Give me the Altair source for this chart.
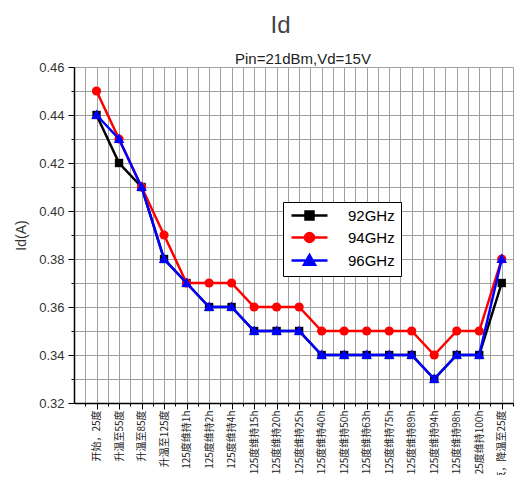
import json
import altair as alt
import pandas as pd

categories = ["开始，25度", "升温至55度", "升温至85度", "升温至125度",
              "125度维持1h", "125度维持2h", "125度维持4h", "125度维持15h",
              "125度维持20h", "125度维持25h", "125度维持40h", "125度维持50h",
              "125度维持63h", "125度维持75h", "125度维持89h", "125度维持94h",
              "125度维持98h", "125度维持100h", "结束，降温至25度"]
series_names = ["92GHz", "94GHz", "96GHz"]
v92 = [0.44, 0.42, 0.41, 0.38, 0.37, 0.36, 0.36, 0.35, 0.35, 0.35,
       0.34, 0.34, 0.34, 0.34, 0.34, 0.33, 0.34, 0.34, 0.37]
v94 = [0.45, 0.43, 0.41, 0.39, 0.37, 0.37, 0.37, 0.36, 0.36, 0.36,
       0.35, 0.35, 0.35, 0.35, 0.35, 0.34, 0.35, 0.35, 0.38]
v96 = [0.44, 0.43, 0.41, 0.38, 0.37, 0.36, 0.36, 0.35, 0.35, 0.35,
       0.34, 0.34, 0.34, 0.34, 0.34, 0.33, 0.34, 0.34, 0.38]
colors = ["#000000", "#ff0000", "#0000ff"]
marker_shapes = ["square", "circle", "M0,-1.05L1,0.75L-1,0.75Z"]
marker_sizes = [70, 85, 110]
y_ticks = [round(0.32 + 0.01 * i, 2) for i in range(15)]
x_ticks = [0.5 * i for i in range(1, 40)]
subtitle = "Pin=21dBm,Vd=15V"

rows = []
for name, vals in zip(series_names, [v92, v94, v96]):
    for i, v in enumerate(vals):
        rows.append({"idx": i + 1, "label": categories[i], "series": name, "value": v})
df = pd.DataFrame(rows)

legend_shapes = [
    "M-3.6,0L3.6,0M-0.8,-0.8L0.8,-0.8L0.8,0.8L-0.8,0.8Z",
    "M-3.6,0L3.6,0M0.9,0A0.9,0.9,0,1,1,-0.9,0A0.9,0.9,0,1,1,0.9,0Z",
    "M-3.6,0L3.6,0M0,-1.1L1.1,0.85L-1.1,0.85Z",
]

cats_js = json.dumps(categories, ensure_ascii=False)
xscale = alt.Scale(domain=[0, 19.5], nice=False, zero=False)
yscale = alt.Scale(domain=[0.32, 0.46], nice=False, zero=False)

x_axis = alt.Axis(values=x_ticks, title=None,
                  labelExpr=f"datum.value % 1 === 0 ? {cats_js}[datum.value - 1] : ''",
                  labelAngle=-90, labelFont="Noto Sans CJK SC", labelFontSize=10,
                  labelColor="#222", labelPadding=1, labelOverlap=False, labelFlush=False,
                  tickSize={"condition": {"test": "datum.value % 1 === 0", "value": 6}, "value": 3},
                  tickColor="black", domainColor="black", domainWidth=1.5,
                  grid=True, gridColor="#a0a0a0", gridWidth=1)
y_axis = alt.Axis(values=y_ticks, title="Id(A)", titleFont="Liberation Sans",
                  titleFontSize=14, titleFontWeight="normal", titleColor="#333",
                  titlePadding=10,
                  labelExpr="round(datum.value * 100) % 2 === 0 ? format(datum.value, '.2f') : ''",
                  labelFont="Liberation Sans", labelFontSize=13, labelColor="#333",
                  labelPadding=4,
                  tickSize={"condition": {"test": "round(datum.value * 100) % 2 === 0", "value": 6}, "value": 3},
                  tickColor="black", domainColor="black", domainWidth=1.5,
                  grid=True, gridColor="#a0a0a0", gridWidth=1)
xe = alt.X("idx:Q", scale=xscale, axis=x_axis)
ye = alt.Y("value:Q", scale=yscale, axis=y_axis)

layers = []
for k, name in enumerate(series_names):
    sub = df[df["series"] == name]
    layers.append(alt.Chart(sub).mark_line(strokeWidth=2.5, color=colors[k]).encode(x=xe, y=ye))
    layers.append(alt.Chart(sub).mark_point(filled=True, size=marker_sizes[k], opacity=1,
                                            color=colors[k], shape=marker_shapes[k]
                                            ).encode(x=xe, y=ye))

leg = alt.Legend(title=None, orient="none", legendX=209, legendY=135,
                 strokeColor="black", fillColor="white", padding=6,
                 symbolSize=100, symbolOffset=13, labelOffset=31,
                 labelFont="Liberation Sans", labelFontSize=15, labelColor="black",
                 rowPadding=3, symbolStrokeWidth=2.5, symbolOpacity=1, cornerRadius=0)
legend_layer = alt.Chart(df).transform_filter("false").mark_point(
    filled=True, opacity=1, strokeWidth=2.5).encode(
    x=xe, y=ye,
    fill=alt.Fill("series:N", scale=alt.Scale(domain=series_names, range=colors), legend=leg),
    stroke=alt.Stroke("series:N", scale=alt.Scale(domain=series_names, range=colors), legend=leg),
    shape=alt.Shape("series:N", scale=alt.Scale(domain=series_names, range=legend_shapes), legend=leg),
)
layers.append(legend_layer)

sub_layer = alt.Chart(pd.DataFrame({"t": [subtitle]})).mark_text(
    font="Liberation Sans", fontSize=15, color="#222", baseline="alphabetic", align="center"
).encode(text="t:N", x=alt.value(229), y=alt.value(-3))
layers.append(sub_layer)

chart = alt.layer(*layers).properties(
    width=439, height=336,
    title=alt.Title("Id", font="Liberation Sans", fontSize=24, fontWeight="normal",
                    color="#444", anchor="middle", dx=-13, offset=14),
    autosize=alt.AutoSizeParams(type="none"),
    padding={"left": 66, "top": 59, "right": 3, "bottom": 72},
).configure_view(stroke="black", strokeWidth=1.5).configure(background="white")

chart.save("out.html", embed_options={"renderer": "svg", "actions": False})
